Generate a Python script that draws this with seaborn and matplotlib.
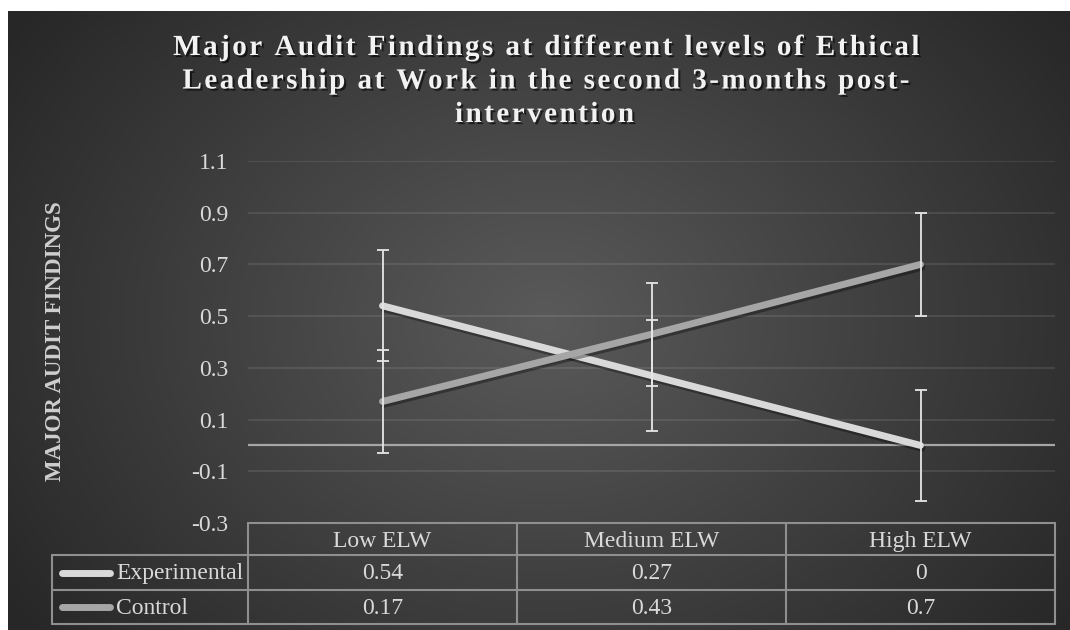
import numpy as np
import pandas as pd
import matplotlib
matplotlib.use("Agg")
import matplotlib.pyplot as plt
import matplotlib.patheffects as pe
from matplotlib.lines import Line2D
import seaborn as sns

# data
categories = ["Low ELW", "Medium ELW", "High ELW"]
series_names = ["Experimental", "Control"]
experimental = [0.54, 0.27, 0.0]
control = [0.17, 0.43, 0.7]
experimental_err = [0.215, 0.215, 0.215]
control_err = [0.2, 0.2, 0.2]
y_ticks = [-0.3, -0.1, 0.1, 0.3, 0.5, 0.7, 0.9, 1.1]

title = ("Major Audit Findings at different levels of Ethical\n"
         "Leadership at Work in the second 3-months post-\n"
         "intervention")
ylabel = "MAJOR AUDIT FINDINGS"

colors = {"Experimental": "#d9d9d9", "Control": "#a6a6a6"}
text_col = "#d9d9d9"
border_col = "#8f8f8f"

df = pd.DataFrame({
    "level": categories * 2,
    "value": experimental + control,
    "group": [series_names[0]] * 3 + [series_names[1]] * 3,
})

sns.set_theme(style="dark")
plt.rcParams["font.family"] = ["Liberation Serif", "DejaVu Serif"]

W, H = 1070, 630
def fx(x):
    return x / W
def fy(y):
    return 1 - y / H

fig = plt.figure(figsize=(W / 100, H / 100), dpi=100)
fig.patch.set_facecolor("white")

# radial gradient panel behind everything
bg = fig.add_axes([fx(8), 0, 1 - fx(8), fy(11)])
bg.set_zorder(-10)
gx, gy = np.meshgrid(np.arange(8, W), np.arange(11, H))
r = np.sqrt(((gx - 545) / 640.0) ** 2 + ((gy - 320) / 500.0) ** 2)
shade = np.clip(90 - 50 * r, 39, 90) / 255.0
bg.imshow(np.dstack([shade] * 3), aspect="auto",
          extent=[0, 1, 0, 1], interpolation="bilinear")
bg.axis("off")

ax = fig.add_axes([fx(248), fy(523), (1055 - 248) / W, (523 - 161) / H])
ax.set_facecolor("none")

shadow = [pe.SimpleLineShadow(offset=(1, -2), shadow_color="black", alpha=0.35),
          pe.Normal()]
sns.lineplot(data=df, x="level", y="value", hue="group", palette=colors,
             sort=False, linewidth=5, legend=False, ax=ax,
             solid_capstyle="round")
for ln in ax.get_lines():
    ln.set_path_effects(shadow)

ax.errorbar(categories, experimental, yerr=experimental_err, fmt="none",
            ecolor="#e6e6e6", elinewidth=1.3, capsize=4.2, capthick=1.3, zorder=5)
ax.errorbar(categories, control, yerr=control_err, fmt="none",
            ecolor="#e6e6e6", elinewidth=1.3, capsize=4.2, capthick=1.3, zorder=5)

ax.axhline(0, color="#a6a6a6", lw=1.6, zorder=1)
ax.set_xlim(-0.5, 2.5)
ax.set_ylim(-0.3, 1.1)
ax.set_yticks(y_ticks)
ax.set_yticklabels([f"{t:g}" for t in y_ticks])
ax.tick_params(axis="y", length=0, pad=14, labelsize=17, labelcolor=text_col)
ax.set_xticks([])
ax.grid(False)
for t in y_ticks:
    ax.axhline(t, color="white", alpha=0.12, lw=1.1, zorder=0)
for s in ax.spines.values():
    s.set_visible(False)
ax.set_xlabel("")
ax.set_ylabel("")

fig.text(fx(56), fy(341), ylabel, rotation=90, ha="center", va="center",
         fontsize=16.5, fontweight="bold", color="#cfcfcf")

# title with letter spacing (hair spaces between characters)
tracked = "\n".join("\u200a".join(line) for line in title.split("\n"))
fig.text(fx(544), fy(34), tracked, ha="center", va="top", multialignment="center",
         fontsize=21, fontweight="bold", color="#f2f2f2", linespacing=1.31,
         path_effects=[pe.withSimplePatchShadow(offset=(1.5, -1.5),
                                                shadow_rgbFace="black", alpha=0.6)])

# data table under the plot
col_edges = [248, 517, 786, 1055]
row_edges = [523, 555, 590, 624]
def hline(x0, x1, y):
    fig.add_artist(Line2D([fx(x0), fx(x1)], [fy(y), fy(y)], color=border_col, lw=1.5))
def vline(x, y0, y1):
    fig.add_artist(Line2D([fx(x), fx(x)], [fy(y0), fy(y1)], color=border_col, lw=1.5))

hline(col_edges[0], col_edges[-1], row_edges[0])
for y in row_edges[1:]:
    hline(52, col_edges[-1], y)
for x in col_edges:
    vline(x, row_edges[0], row_edges[-1])
vline(52, row_edges[1], row_edges[-1])

for i, cat in enumerate(categories):
    cx = (col_edges[i] + col_edges[i + 1]) / 2
    fig.text(fx(cx), fy(547), cat, ha="center", va="baseline",
             fontsize=17, color=text_col)

row_vals = [experimental, control]
baselines = [579, 614]
key_y = [572.5, 607]
for name, vals, yb, yk in zip(series_names, row_vals, baselines, key_y):
    fig.add_artist(Line2D([fx(61.5), fx(109.5)], [fy(yk), fy(yk)], color=colors[name],
                          lw=5, solid_capstyle="round"))
    fig.text(fx(116), fy(yb), name, ha="left", va="baseline", fontsize=17, color=text_col)
    for i, v in enumerate(vals):
        cx = (col_edges[i] + col_edges[i + 1]) / 2
        fig.text(fx(cx), fy(yb), f"{v:g}", ha="center", va="baseline",
                 fontsize=17, color=text_col)

fig.savefig("out.png", dpi=100)
